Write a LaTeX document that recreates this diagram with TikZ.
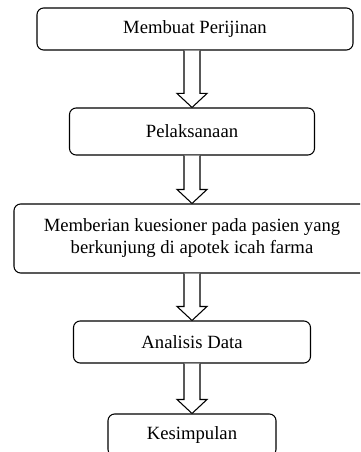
\documentclass[tikz,border=0pt]{standalone}
\usepackage{fontspec}
\setmainfont{Liberation Serif}
\usetikzlibrary{calc}
\tikzset{
  stepbox/.style={draw,line width=0.8pt,rounded corners=5,align=center,
    font=\fontsize{14}{16.5}\selectfont,inner sep=0pt},
  blockarrow/.style={draw,line width=0.8pt,fill=white,line join=miter}
}
% block arrow from the bottom of #1 to the top of #2
\newcommand{\blockarr}[2]{%
  \draw[blockarrow] ($(#1.south -| #2.north)+(-8,0)$) -- ($(#2.north)+(-8,-14)$)
    -- ($(#2.north)+(-15,-14)$) -- (#2.north) -- ($(#2.north)+(15,-14)$)
    -- ($(#2.north)+(8,-14)$) -- ($(#1.south -| #2.north)+(8,0)$);}
\begin{document}
\begin{tikzpicture}[x=0.75pt,y=-0.75pt]
\useasboundingbox (0,0) rectangle (360,452);
\clip (0,0) rectangle (360,452);
\node[stepbox,minimum width=316*0.75pt,minimum height=42*0.75pt] (izin) at (195,29) {Membuat Perijinan};
\node[stepbox,minimum width=245*0.75pt,minimum height=47*0.75pt] (laksana) at (192,131.5) {Pelaksanaan};
\node[stepbox,minimum width=356*0.75pt,minimum height=69*0.75pt] (kuesioner) at (192,238.5)
  {Memberian kuesioner pada pasien yang\\berkunjung di apotek icah farma};
\node[stepbox,minimum width=237*0.75pt,minimum height=42*0.75pt] (analisis) at (192,342) {Analisis Data};
\node[stepbox,minimum width=168*0.75pt,minimum height=42*0.75pt] (simpul) at (192,435) {Kesimpulan};
\blockarr{izin}{laksana}
\blockarr{laksana}{kuesioner}
\blockarr{kuesioner}{analisis}
\blockarr{analisis}{simpul}
\end{tikzpicture}
\end{document}
